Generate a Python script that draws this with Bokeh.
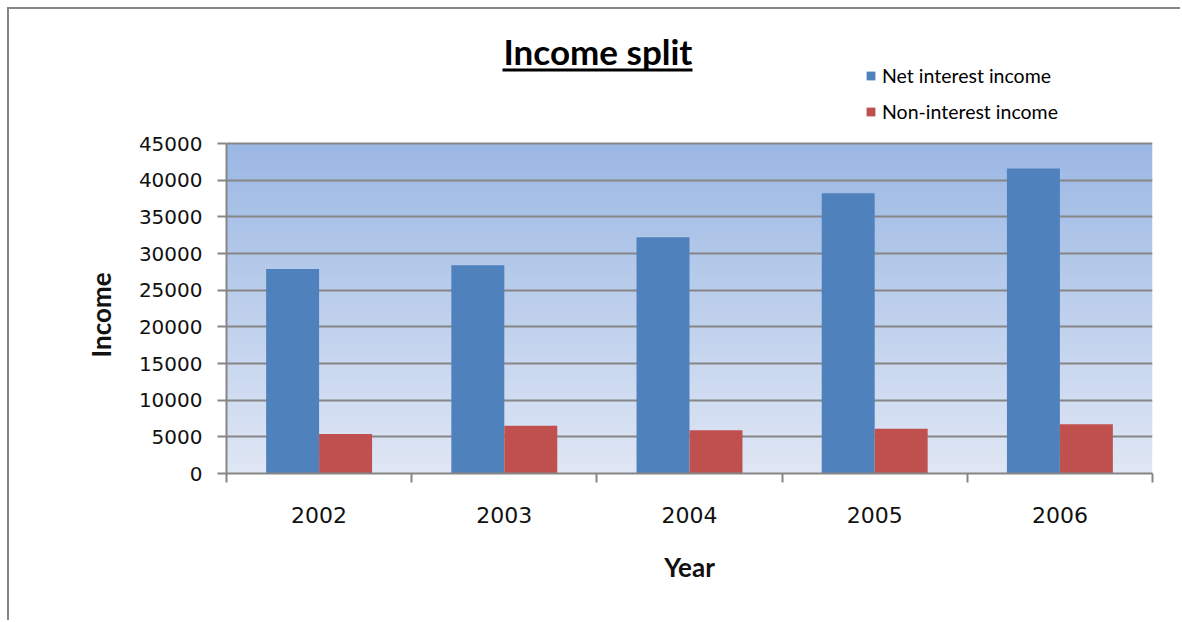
import numpy as np
from bokeh.plotting import figure
from bokeh.models import (FixedTicker, Legend, LegendItem, Label, BoxAnnotation, Title,
                          Range1d, ColumnDataSource)
from bokeh.embed import file_html
from bokeh.resources import INLINE

# ---- data ----
years = ["2002", "2003", "2004", "2005", "2006"]
net_interest = [27900, 28400, 32200, 38200, 41600]
non_interest = [5400, 6500, 5900, 6100, 6700]
y_ticks = [0, 5000, 10000, 15000, 20000, 25000, 30000, 35000, 40000, 45000]

title_text = "Income split"
series_names = ["Net interest income", "Non-interest income"]
x_title = "Year"
y_title = "Income"

# ---- style ----
OX, OY = 9, 9                          # page offset of the canvas (outer border)
W, H = 1182 - OX, 622 - OY
FL, FR, FB = 226, 1152, 473            # frame edges in page pixels
PA_TOP = 143                           # top of the shaded plot area (page px)
FT = 20                                # frame top (title/legend live inside the frame)
BLUE = "#4F81BD"
RED = "#C0504D"
GRID = "#868686"
BAR_W = 0.286

n = len(years)
idx = np.arange(n)
y_max = y_ticks[-1]
y_end = y_max * (FB - FT) / (FB - PA_TOP)   # keep 45000 at the plot-area top

src = ColumnDataSource(dict(
    year=years,
    x_net=idx + 0.5 - BAR_W / 2,
    x_non=idx + 0.5 + BAR_W / 2,
    net=net_interest,
    non=non_interest,
))

p = figure(width=W, height=H, x_range=Range1d(0, n), y_range=Range1d(0, y_end),
           output_backend="svg", toolbar_location=None,
           min_border_left=FL - OX, min_border_right=1182 - FR,
           min_border_top=FT - OY, min_border_bottom=622 - FB)
p.border_fill_color = "white"
p.background_fill_color = None
p.outline_line_color = None
p.styles = {"margin-left": "7px", "margin-top": "7px",
            "border-left": "2px solid #868686", "border-top": "2px solid #868686"}

# gradient background of the plot area
rows = 200
top = np.array([155, 184, 228], dtype=float)
bot = np.array([224, 231, 245], dtype=float)
t = np.linspace(0, 1, rows)[:, None]
cols = (bot * (1 - t) + top * t).astype(np.uint32)
img = np.empty((rows, 1), dtype=np.uint32)
view = img.view(dtype=np.uint8).reshape((rows, 1, 4))
view[:, 0, 0] = cols[:, 0]
view[:, 0, 1] = cols[:, 1]
view[:, 0, 2] = cols[:, 2]
view[:, 0, 3] = 255
bg = p.image_rgba(image=[img], x=0, y=0, dw=n, dh=y_max)
bg.level = "image"

r_net = p.vbar(x="x_net", top="net", width=BAR_W, source=src, fill_color=BLUE, line_color=None)
r_non = p.vbar(x="x_non", top="non", width=BAR_W, source=src, fill_color=RED, line_color=None)

# grid
p.xgrid.visible = False
p.ygrid.ticker = FixedTicker(ticks=y_ticks)
p.ygrid.grid_line_color = GRID
p.ygrid.grid_line_width = 2

# y axis
yax = p.yaxis[0]
yax.ticker = FixedTicker(ticks=y_ticks)
yax.bounds = (0, y_max)
yax.axis_line_color = GRID
yax.axis_line_width = 2
yax.major_tick_line_color = GRID
yax.major_tick_line_width = 2
yax.major_tick_out = 9
yax.major_tick_in = 0
yax.minor_tick_out = 0
yax.minor_tick_in = 0
yax.major_label_text_font = "DejaVu Sans"
yax.major_label_text_font_size = "20px"
yax.major_label_text_color = "#111111"
yax.major_label_standoff = 15

# y-axis title, centred on the shaded plot area
p.add_layout(Title(text=y_title, align="left", offset=FB - 357, standoff=38,
                   vertical_align="bottom",
                   text_font="Lato", text_font_style="bold", text_font_size="26px",
                   text_color="#111111"), "left")

# x axis: labels at category centres, ticks at category boundaries
xax = p.xaxis[0]
xax.ticker = FixedTicker(ticks=list(idx + 0.5), minor_ticks=list(range(n + 1)))
xax.major_label_overrides = {float(i + 0.5): y for i, y in enumerate(years)}
xax.axis_line_color = GRID
xax.axis_line_width = 2
xax.major_tick_out = 0
xax.major_tick_in = 0
xax.minor_tick_out = 9
xax.minor_tick_in = 0
xax.minor_tick_line_color = GRID
xax.minor_tick_line_width = 2
xax.major_label_text_font = "DejaVu Sans"
xax.major_label_text_font_size = "22px"
xax.major_label_text_color = "#111111"
xax.major_label_standoff = 24
xax.axis_label = x_title
xax.axis_label_text_font = "Lato"
xax.axis_label_text_font_style = "bold"
xax.axis_label_text_font_size = "26px"
xax.axis_label_text_color = "#111111"
xax.axis_label_standoff = 25

# title with underline (inside the upper, unshaded part of the frame)
p.add_layout(Label(x=503 - FL, y=FB - 50, x_units="screen", y_units="screen",
                   text=title_text, text_align="left", text_baseline="alphabetic",
                   text_font="Lato", text_font_style="bold", text_font_size="35px",
                   text_color="#000000"))
p.add_layout(BoxAnnotation(left=502 - FL, right=692 - FL, bottom=FB - 71, top=FB - 68,
                           left_units="screen", right_units="screen",
                           bottom_units="screen", top_units="screen",
                           fill_color="black", fill_alpha=1, line_color=None))

# legend
legend = Legend(items=[LegendItem(label=series_names[0], renderers=[r_net]),
                       LegendItem(label=series_names[1], renderers=[r_non])],
                location=(865 - FL, FB - 123))
legend.border_line_color = None
legend.background_fill_alpha = 0
legend.padding = 0
legend.margin = 0
legend.spacing = 13
legend.glyph_width = 11
legend.glyph_height = 11
legend.label_standoff = 6
legend.label_height = 22
legend.label_text_font = "Lato"
legend.label_text_font_size = "19.5px"
legend.label_text_color = "#000000"
p.add_layout(legend, "center")

open("out.html", "w").write(file_html(p, INLINE))
